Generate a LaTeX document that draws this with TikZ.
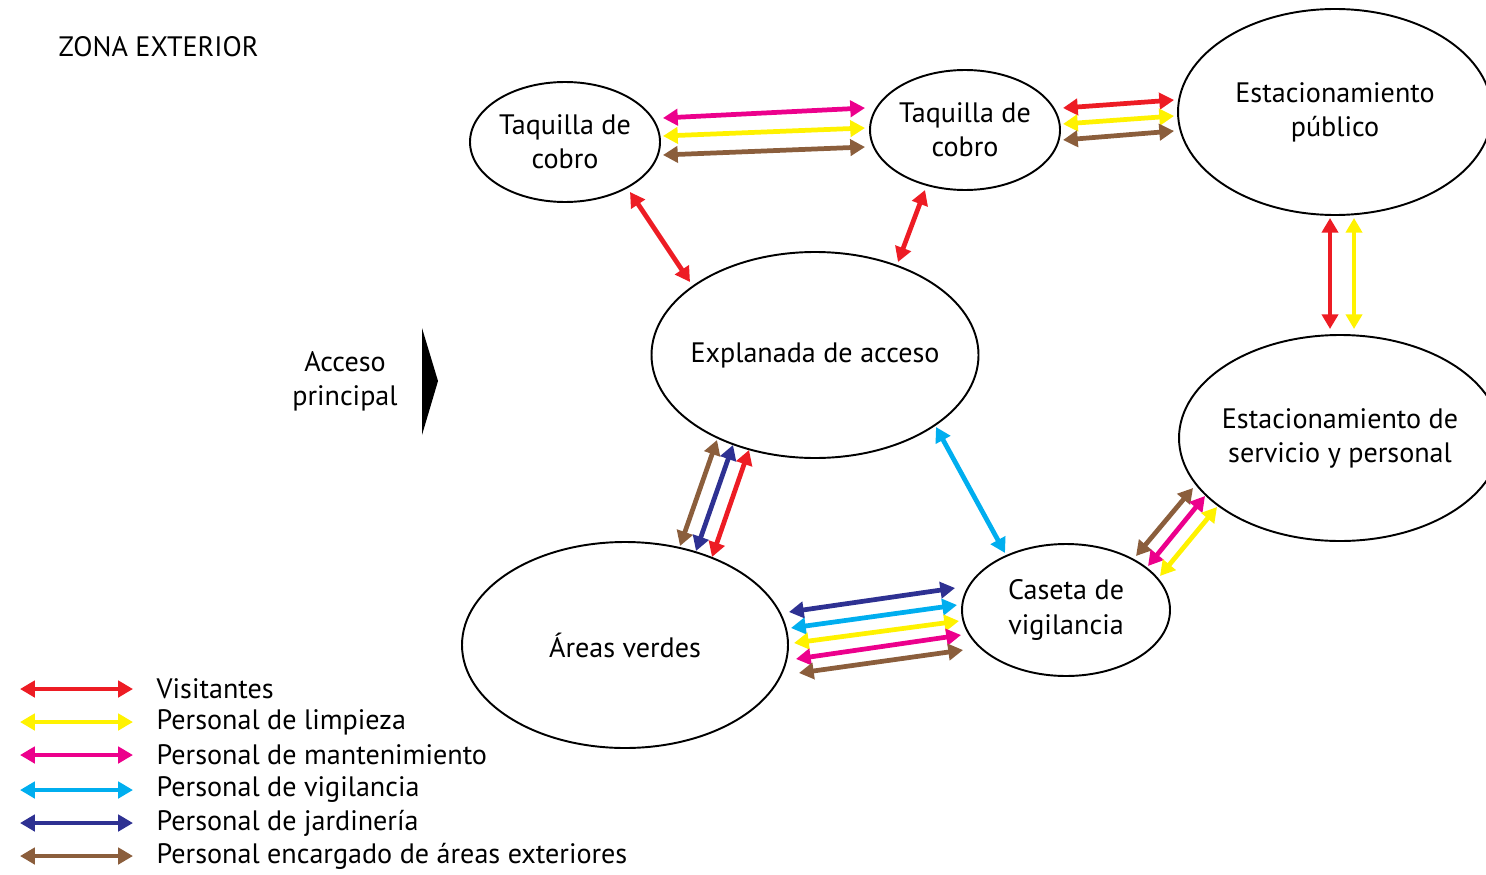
\documentclass[tikz,border=0pt]{standalone}
\usepackage{fontspec}
\setmainfont{PT Sans}
\usepackage{tikz}
\usetikzlibrary{positioning, calc, arrows.meta, shapes.geometric}
\usepackage{xcolor}
\definecolor{vis}{HTML}{ED1C24}
\definecolor{lim}{HTML}{FFF200}
\definecolor{man}{HTML}{EC008C}
\definecolor{vig}{HTML}{00AEEF}
\definecolor{jar}{HTML}{2E3192}
\definecolor{ext}{HTML}{8B5E3C}

\begin{document}
\begin{tikzpicture}[x=0.1mm, y=-0.1mm,
    font=\fontsize{8}{9.7}\selectfont,
    zona/.style 2 args={draw, ellipse, line width=0.55pt, inner sep=0pt,
        minimum width=#1, minimum height=#2},
    rotulo/.style={label={[align=center]center:#1}},
    flujo/.style={line width=1.35pt, {Triangle[length=4.2pt,width=4.6pt]}-{Triangle[length=4.2pt,width=4.6pt]}},
    etiqueta/.style={anchor=west, inner sep=0pt}]
    \useasboundingbox (0,0) rectangle (1486,874);

    \node[anchor=west, inner sep=0pt] (titulo) at (58,47) {ZONA EXTERIOR};

    \node[zona={19mm}{12mm}, rotulo={Taquilla de\\cobro}] (tq1) at (565,142) {};
    \node[zona={19mm}{12mm}, rotulo={Taquilla de\\cobro}] (tq2) at (965,130) {};
    \node[zona={31.4mm}{20.6mm}, rotulo={Estacionamiento\\público}] (ep) at (1335,112) {};
    \node[zona={32.7mm}{20.6mm}, rotulo={Explanada de acceso}] (ex) at (815,355) {};
    \node[zona={32.2mm}{20.6mm}, rotulo={Estacionamiento de\\servicio y personal}] (es) at (1340,438) {};
    \node[zona={32.6mm}{20.6mm}, rotulo={Áreas verdes}] (av) at (625,645) {};
    \node[zona={20.8mm}{13.2mm}, rotulo={Caseta de\\vigilancia}] (cs) at (1066,610) {};

    \node[align=center, inner sep=0pt] (acc) at (345,381) {Acceso\\principal};
    \coordinate (A1) at (422,328);
    \coordinate (A2) at (438,381);
    \coordinate (A3) at (422,435);
    \fill[black] (A1) -- (A2) -- (A3) -- cycle;

    \draw[flujo, man] ([shift={(2,-24)}]tq1.east) -- ([shift={(-4,-22)}]tq2.west);
    \draw[flujo, lim] ([shift={(2,-6)}]tq1.east) -- ([shift={(-4,-2)}]tq2.west);
    \draw[flujo, ext] ([shift={(2,13)}]tq1.east) -- ([shift={(-4,17)}]tq2.west);

    \draw[flujo, vis] ([shift={(2,-22)}]tq2.east) -- ([shift={(-3,-12)}]ep.west);
    \draw[flujo, lim] ([shift={(2,-6)}]tq2.east) -- ([shift={(-3,4)}]ep.west);
    \draw[flujo, ext] ([shift={(2,10)}]tq2.east) -- ([shift={(-3,19)}]ep.west);

    \draw[flujo, vis] ([shift={(65,50)}]tq1.center) -- ([shift={(-125,-73)}]ex.center);
    \draw[flujo, vis] ([shift={(-40,60)}]tq2.center) -- ([shift={(83,-93)}]ex.center);

    \draw[flujo, vis] ([shift={(-5,2)}]ep.south) -- ([shift={(-10,-5)}]es.north);
    \draw[flujo, lim] ([shift={(19,2)}]ep.south) -- ([shift={(14,-5)}]es.north);

    \draw[flujo, ext] ([shift={(-98,85)}]ex.center) -- ([shift={(55,-99)}]av.center);
    \draw[flujo, jar] ([shift={(-82,90)}]ex.center) -- ([shift={(71,-94)}]av.center);
    \draw[flujo, vis] ([shift={(-66,95)}]ex.center) -- ([shift={(87,-88)}]av.center);

    \draw[flujo, vig] ([shift={(121,72)}]ex.center) -- ([shift={(-61,-57)}]cs.center);

    \draw[flujo, jar] ([shift={(0,-33)}]av.east) -- ([shift={(-6,-22)}]cs.west);
    \draw[flujo, vig] ([shift={(2,-17)}]av.east) -- ([shift={(-4,-5)}]cs.west);
    \draw[flujo, lim] ([shift={(5,-2)}]av.east) -- ([shift={(-2,11)}]cs.west);
    \draw[flujo, man] ([shift={(7,14)}]av.east) -- ([shift={(0,25)}]cs.west);
    \draw[flujo, ext] ([shift={(10,28)}]av.east) -- ([shift={(2,40)}]cs.west);

    \draw[flujo, ext] ([shift={(70,-54)}]cs.center) -- ([shift={(-147,50)}]es.center);
    \draw[flujo, man] ([shift={(82,-44)}]cs.center) -- ([shift={(-135,58)}]es.center);
    \draw[flujo, lim] ([shift={(94,-34)}]cs.center) -- ([shift={(-123,69)}]es.center);

    \node[etiqueta] (l1) at (156,689) {Visitantes};
    \node[etiqueta] (l2) at (156,722) {Personal de limpieza};
    \node[etiqueta] (l3) at (156,755) {Personal de mantenimiento};
    \node[etiqueta] (l4) at (156,790) {Personal de vigilancia};
    \node[etiqueta] (l5) at (156,823) {Personal de jardinería};
    \node[etiqueta] (l6) at (156,856) {Personal encargado de áreas exteriores};
    \draw[flujo, vis] ([shift={(-136,0)}]l1.west) -- ([shift={(-23,0)}]l1.west);
    \draw[flujo, lim] ([shift={(-136,0)}]l2.west) -- ([shift={(-23,0)}]l2.west);
    \draw[flujo, man] ([shift={(-136,0)}]l3.west) -- ([shift={(-23,0)}]l3.west);
    \draw[flujo, vig] ([shift={(-136,0)}]l4.west) -- ([shift={(-23,0)}]l4.west);
    \draw[flujo, jar] ([shift={(-136,0)}]l5.west) -- ([shift={(-23,0)}]l5.west);
    \draw[flujo, ext] ([shift={(-136,0)}]l6.west) -- ([shift={(-23,0)}]l6.west);
\end{tikzpicture}
\end{document}
